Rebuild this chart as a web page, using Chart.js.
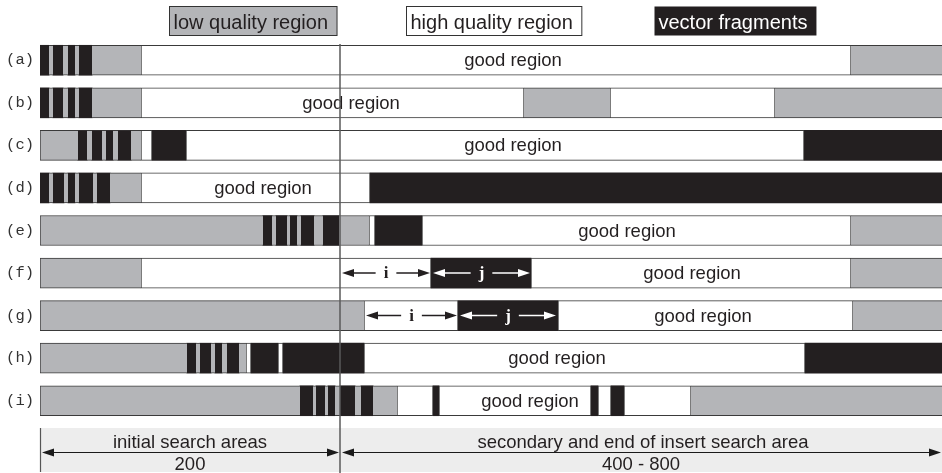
<!DOCTYPE html>
<html>
<head>
<meta charset="utf-8">
<title>Search regions</title>
<script src="https://cdn.jsdelivr.net/npm/chart.js@4"></script>
<style>html,body{margin:0;padding:0;background:#fff}canvas{display:block}</style>
</head>
<body>
<canvas id="chart" width="942" height="473"></canvas>
<script>
// rows and series
const rows = ['(a)', '(b)', '(c)', '(d)', '(e)', '(f)', '(g)', '(h)', '(i)'];
const seriesNames = ['low quality region', 'high quality region', 'vector fragments'];

// segments per row: [start, end, kind]  kind: 0 low, 1 high, 2 vector
const segA = [[0,9,2],[9,13,0],[13,23,2],[23,28,0],[28,35,2],[35,39,0],[39,52,2],[52,101,0],[101,811,1],[811,902,0]];
const segB = [[0,9,2],[9,13,0],[13,23,2],[23,28,0],[28,35,2],[35,39,0],[39,52,2],[52,101,0],[101,484,1],[484,570,0],[570,735,1],[735,902,0]];
const segC = [[0,38,0],[38,47,2],[47,52,0],[52,62,2],[62,66,0],[66,73,2],[73,78,0],[78,91,2],[91,101,0],[101,112,1],[112,146,2],[146,764,1],[764,902,2]];
const segD = [[0,9,2],[9,13,0],[13,24,2],[24,28,0],[28,35,2],[35,39,0],[39,53,2],[53,57,0],[57,70,2],[70,101,0],[101,330,1],[330,902,2]];
const segE = [[0,223,0],[223,232,2],[232,236,0],[236,247,2],[247,250,0],[250,257,2],[257,261,0],[261,274,2],[274,283,0],[283,299,2],[299,329,0],[329,335,1],[335,382,2],[382,811,1],[811,902,0]];
const segF = [[0,101,0],[101,391,1],[391,491,2],[491,811,1],[811,902,0]];
const segG = [[0,324,0],[324,418,1],[418,518,2],[518,813,1],[813,902,0]];
const segH = [[0,147,0],[147,156,2],[156,160,0],[160,171,2],[171,175,0],[175,182,2],[182,187,0],[187,199,2],[199,206,0],[206,211,1],[211,238,2],[238,243,1],[243,324,2],[324,765,1],[765,902,2]];
const segI = [[0,260,0],[260,273,2],[273,276,0],[276,285,2],[285,288,0],[288,295,2],[295,300,0],[300,315,2],[315,321,0],[321,333,2],[333,357,0],[357,393,1],[393,399,2],[399,551,1],[551,558,2],[558,571,1],[571,584,2],[584,651,1],[651,902,0]];
const allSegs = [segA, segB, segC, segD, segE, segF, segG, segH, segI];

// "good region" label centre per row
const goodLabelAt = [473, 311, 473, 223, 587, 652, 663, 517, 490];

// gap arrows i / j
const arrowRows = ['(f)', '(g)'];
const arrowI = [[302, 390], [326, 417]];
const arrowJ = [[393, 490], [420, 516]];

// search areas along the bottom
const areaBounds = [0, 300, 902];
const areaNames = ['initial search areas', 'secondary and end of insert search area'];
const areaLengths = ['200', '400 - 800'];

const fills = ['#b4b5b8', '#ffffff', '#231f20'];
const edge = '#3a3a3a';

const datasets = seriesNames.map((name, k) => {
  const data = [];
  allSegs.forEach((segs, r) => {
    segs.filter(s => s[2] === k).forEach(s => data.push({ y: rows[r], x: [s[0], s[1]] }));
  });
  let bw = 0;
  if (k === 1) bw = 1;
  if (k === 0) bw = c => ({ top: 1, bottom: 1, right: 0, left: c.raw && c.raw.x[0] <= 0 ? 1 : 0 });
  return {
    label: name, data,
    backgroundColor: fills[k], borderColor: edge, borderWidth: bw,
    borderSkipped: false, grouped: false, barThickness: 30
  };
});

function head(ctx, tip, y, dir) {
  ctx.beginPath();
  ctx.moveTo(tip, y);
  ctx.lineTo(tip - dir * 12, y - 4);
  ctx.lineTo(tip - dir * 12, y + 4);
  ctx.closePath();
  ctx.fill();
}

function dimArrow(ctx, x1, x2, y, label) {
  const mid = (x1 + x2) / 2;
  let g = 0;
  if (label) {
    ctx.fillText(label, mid, y + 1);
    g = ctx.measureText(label).width / 2 + 8;
  }
  ctx.beginPath();
  if (g) {
    ctx.moveTo(x1 + 4, y); ctx.lineTo(mid - g, y);
    ctx.moveTo(mid + g, y); ctx.lineTo(x2 - 4, y);
  } else {
    ctx.moveTo(x1 + 4, y); ctx.lineTo(x2 - 4, y);
  }
  ctx.stroke();
  head(ctx, x1, y, -1);
  head(ctx, x2, y, 1);
}

const overlay = {
  id: 'overlay',
  afterDatasetsDraw(chart) {
    const { ctx, chartArea, scales: { x, y } } = chart;
    const sans = '"Liberation Sans", Arial, sans-serif';
    ctx.save();

    // good region labels
    ctx.font = '18.5px ' + sans;
    ctx.fillStyle = '#231f20';
    ctx.textAlign = 'center';
    ctx.textBaseline = 'middle';
    rows.forEach((r, i) => ctx.fillText('good region', x.getPixelForValue(goodLabelAt[i]), y.getPixelForValue(i) + 1));

    // i / j arrows
    ctx.font = 'bold 17px "Liberation Serif", "Times New Roman", serif';
    ctx.lineWidth = 1.5;
    arrowRows.forEach((r, k) => {
      const yy = y.getPixelForValue(rows.indexOf(r));
      ctx.fillStyle = '#231f20'; ctx.strokeStyle = '#231f20';
      dimArrow(ctx, x.getPixelForValue(arrowI[k][0]), x.getPixelForValue(arrowI[k][1]), yy, 'i');
      ctx.fillStyle = '#ffffff'; ctx.strokeStyle = '#ffffff';
      dimArrow(ctx, x.getPixelForValue(arrowJ[k][0]), x.getPixelForValue(arrowJ[k][1]), yy, 'j');
    });

    // bottom band with search areas
    const b = chartArea.bottom;
    const x0 = x.getPixelForValue(areaBounds[0]);
    const x1 = x.getPixelForValue(areaBounds[1]);
    const x2 = x.getPixelForValue(areaBounds[2]);
    ctx.fillStyle = '#ededed';
    ctx.fillRect(x0, b + 6, x2 - x0, 44);
    ctx.strokeStyle = '#555';
    ctx.lineWidth = 1.2;
    ctx.beginPath(); ctx.moveTo(x0 + 0.5, b + 6); ctx.lineTo(x0 + 0.5, b + 50); ctx.stroke();

    ctx.fillStyle = '#1a1a1a'; ctx.strokeStyle = '#1a1a1a'; ctx.lineWidth = 1.2;
    dimArrow(ctx, x0 + 2, x1 - 1, b + 30.5, null);
    dimArrow(ctx, x1 + 2, x2 - 1, b + 30.5, null);
    ctx.font = '18.5px ' + sans;
    ctx.fillStyle = '#231f20';
    ctx.textBaseline = 'alphabetic';
    ctx.fillText(areaNames[0], (x0 + x1) / 2, b + 26);
    ctx.fillText(areaNames[1], (x1 + x2) / 2 + 2, b + 26);
    ctx.fillText(areaLengths[0], (x0 + x1) / 2, b + 48);
    ctx.fillText(areaLengths[1], (x1 + x2) / 2, b + 48);

    // divider between initial and secondary search areas
    ctx.strokeStyle = '#5a5a5a';
    ctx.lineWidth = 1.5;
    ctx.beginPath(); ctx.moveTo(x1, chartArea.top + 5); ctx.lineTo(x1, b + 51); ctx.stroke();

    // legend boxes
    ctx.font = '20px ' + sans;
    ctx.textAlign = 'left';
    const centre = (chartArea.left + chartArea.right) / 2 + 3;
    chart.data.datasets.forEach((ds, k) => {
      const w = ctx.measureText(ds.label).width + 13;
      const cx = centre + (k - 1) * 241;
      const left = Math.round(cx - w / 2) + 0.5;
      const top = chartArea.top - 32.5;
      ctx.fillStyle = ds.backgroundColor;
      ctx.fillRect(left, top, w, 29);
      if (k < 2) {
        ctx.strokeStyle = '#333'; ctx.lineWidth = 1;
        ctx.strokeRect(left, top, w, 29);
      }
      ctx.fillStyle = k === 2 ? '#ffffff' : '#231f20';
      ctx.fillText(ds.label, left + 4, top + 22);
    });
    ctx.restore();
  }
};

new Chart(document.getElementById('chart'), {
  type: 'bar',
  data: { labels: rows, datasets },
  options: {
    indexAxis: 'y',
    responsive: false,
    animation: false,
    layout: { padding: { top: 39, bottom: 51, left: 0, right: 0 } },
    scales: {
      x: { type: 'linear', min: areaBounds[0], max: areaBounds[2], display: false },
      y: {
        type: 'category', offset: true,
        grid: { display: false, drawTicks: false },
        border: { display: false },
        ticks: { padding: 6, color: '#333', font: { family: '"Liberation Mono", "Courier New", monospace', size: 15.5 } },
        afterFit: s => { s.width = 40; }
      }
    },
    plugins: { legend: { display: false }, tooltip: { enabled: false } }
  },
  plugins: [overlay]
});
</script>
</body>
</html>
